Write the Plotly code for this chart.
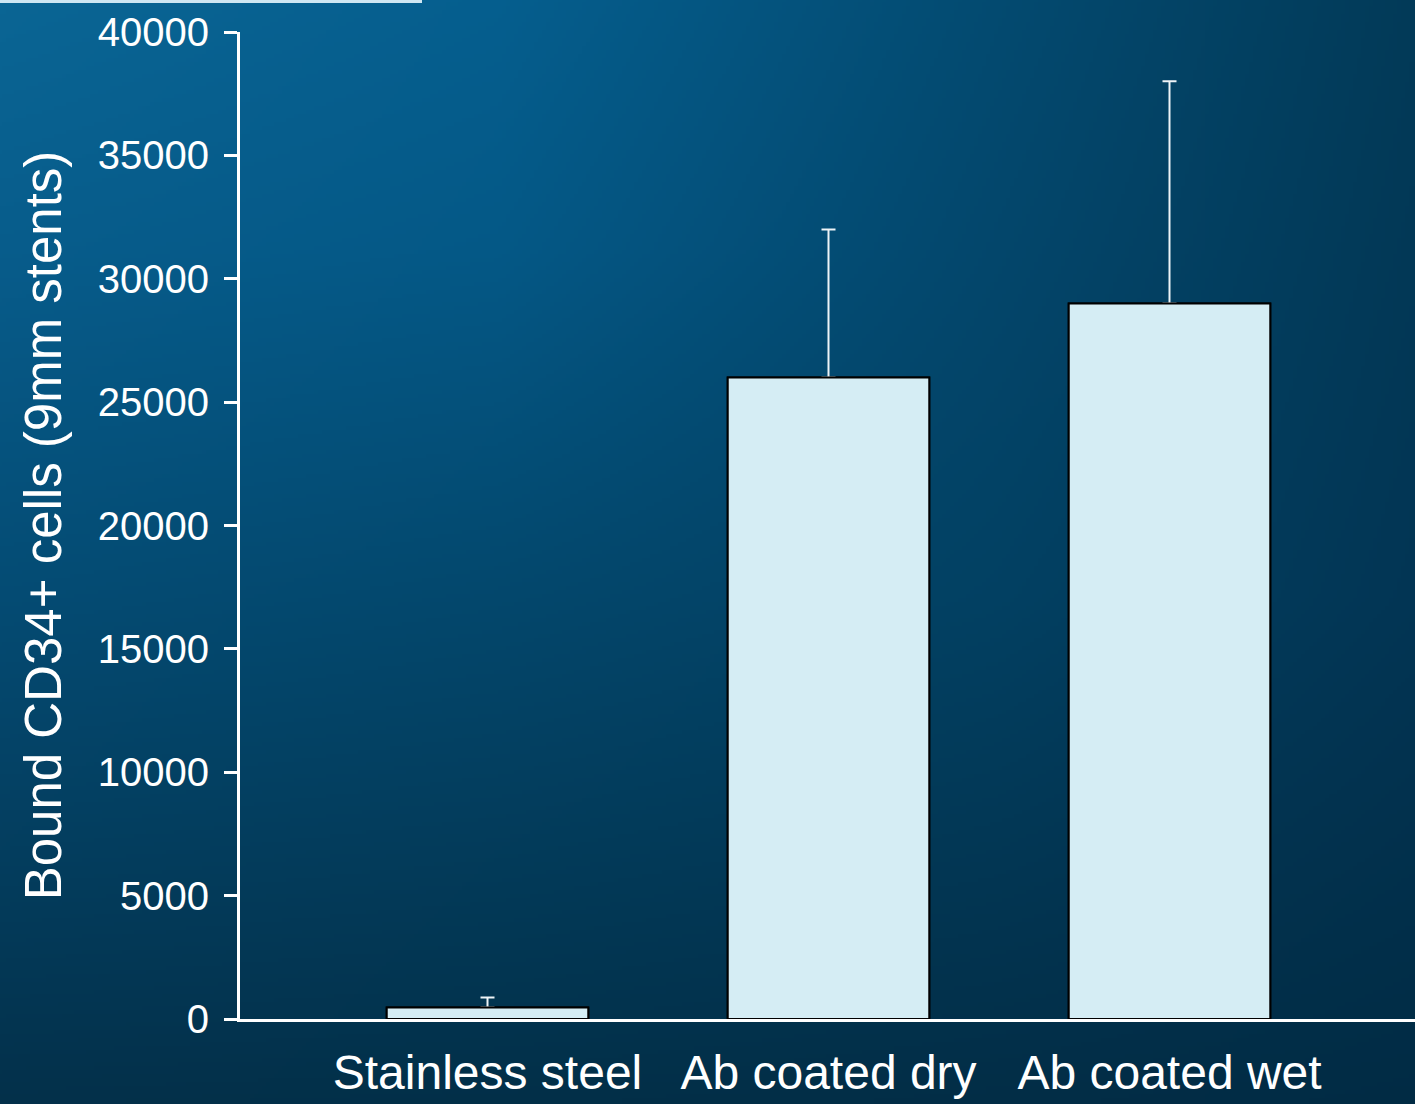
import base64
import struct
import zlib

import numpy as np
import plotly.graph_objects as go

# ---- data ----
categories = ["Stainless steel", "Ab coated dry", "Ab coated wet"]
values = [470, 26000, 29000]
errors_up = [400, 6000, 9000]
y_tickvals = [0, 5000, 10000, 15000, 20000, 25000, 30000, 35000, 40000]
y_title = "Bound CD34+ cells (9mm stents)"

# ---- figure geometry ----
W, H = 1415, 1104
ML, MR, MT, MB = 240, 0, 32, 85
PW, PH = W - ML - MR, H - MT - MB


# ---- background gradient image (style only) ----
def hex2rgb(h):
    h = h.lstrip("#")
    return [int(h[i:i + 2], 16) for i in (0, 2, 4)]


gx = [0, 500, 1000, 1415]
gy = [0, 250, 600, 1104]
grid = [
    ["#0a6594", "#055e8e", "#034a70", "#023a58"],
    ["#075c8b", "#045886", "#03466b", "#023856"],
    ["#044b73", "#03476c", "#024062", "#023554"],
    ["#03304a", "#022f48", "#022d46", "#012b44"],
]
G = np.array([[hex2rgb(c) for c in row] for row in grid], dtype=float)
sw, sh = 354, 276
xs = np.linspace(0, W, sw)
ys = np.linspace(0, H, sh)
img = np.zeros((sh, sw, 3))
for ch in range(3):
    rows = np.array([np.interp(xs, gx, G[r, :, ch]) for r in range(len(gy))])
    for i in range(sw):
        img[:, i, ch] = np.interp(ys, gy, rows[:, i])
img = np.clip(np.round(img), 0, 255).astype(np.uint8)


def png_uri(a):
    h, w, _ = a.shape
    raw = b"".join(b"\x00" + a[y].tobytes() for y in range(h))

    def chunk(t, d):
        return struct.pack(">I", len(d)) + t + d + struct.pack(">I", zlib.crc32(t + d) & 0xFFFFFFFF)

    png = (b"\x89PNG\r\n\x1a\n"
           + chunk(b"IHDR", struct.pack(">IIBBBBB", w, h, 8, 2, 0, 0, 0))
           + chunk(b"IDAT", zlib.compress(raw, 9))
           + chunk(b"IEND", b""))
    return "data:image/png;base64," + base64.b64encode(png).decode()


FONT = "Arial, Liberation Sans, sans-serif"
BAR_FILL = "#d5edf4"

fig = go.Figure()
# trace carrying the upper error bars
fig.add_trace(go.Bar(
    x=categories,
    y=values,
    marker=dict(color=BAR_FILL, line=dict(color="#000000", width=2)),
    error_y=dict(type="data", symmetric=False, array=errors_up,
                 arrayminus=[0] * len(errors_up),
                 color="#eef4f7", thickness=2, width=7),
    hoverinfo="skip",
))
# same bars drawn on top, hiding the lower caps of the error bars
fig.add_trace(go.Bar(
    x=categories,
    y=values,
    marker=dict(color=BAR_FILL, line=dict(color="#000000", width=2)),
))

x_lo = -(487.5 - ML) / 341.0
x_hi = (W - 487.5) / 341.0

fig.update_layout(
    width=W, height=H,
    margin=dict(l=ML, r=MR, t=MT, b=MB, pad=0),
    paper_bgcolor="#02304a",
    plot_bgcolor="rgba(0,0,0,0)",
    barmode="overlay",
    bargap=0.409,
    showlegend=False,
    font=dict(family=FONT, color="white"),
    images=[dict(
        source=png_uri(img), xref="paper", yref="paper",
        x=-ML / PW, y=1 + MT / PH, sizex=W / PW, sizey=H / PH,
        xanchor="left", yanchor="top", sizing="stretch", layer="below",
    )],
    shapes=[dict(
        type="rect", xref="paper", yref="paper",
        x0=-ML / PW, x1=(422 - ML) / PW, y0=1 + (MT - 3) / PH, y1=1 + MT / PH,
        fillcolor="#cfe7f3", line=dict(width=0),
    )],
)

fig.update_xaxes(
    range=[x_lo, x_hi],
    showline=True, linecolor="white", linewidth=3,
    showgrid=False, zeroline=False, ticks="",
    tickfont=dict(family=FONT, size=48, color="white"),
    ticklabelstandoff=9,
)
fig.update_yaxes(
    range=[0, 40000],
    tickvals=y_tickvals,
    ticktext=[str(v) for v in y_tickvals],
    showline=True, linecolor="white", linewidth=3,
    showgrid=False, zeroline=False,
    ticks="outside", ticklen=13, tickwidth=3, tickcolor="white",
    tickfont=dict(family=FONT, size=40, color="white"),
    ticklabelstandoff=7,
    title=dict(text=y_title, font=dict(family=FONT, size=51, color="white"), standoff=20),
)

fig.write_html(
    "out.html",
    config={"displayModeBar": False},
    post_script="document.body.style.margin='0';document.body.style.padding='0';",
)
